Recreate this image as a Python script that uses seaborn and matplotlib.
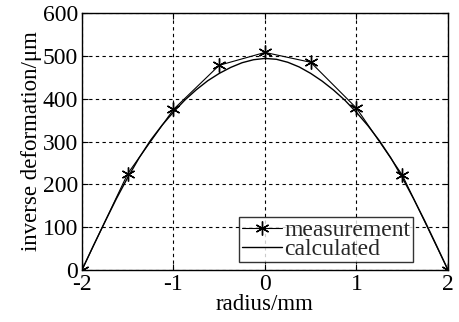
import matplotlib
matplotlib.use("Agg")
import matplotlib.pyplot as plt
import seaborn as sns
import pandas as pd

sns.set_theme(style="white")
plt.rcParams['font.family'] = ['Liberation Serif', 'DejaVu Serif']

meas_r = [-2, -1.5, -1, -0.5, 0, 0.5, 1, 1.5, 2]
meas_d = [0, 225, 375, 478, 508, 485, 378, 222, 0]

calc_r = [-2, -1.875, -1.75, -1.625, -1.5, -1.375, -1.25, -1.125, -1, -0.875, -0.75, -0.625,
          -0.5, -0.375, -0.25, -0.125, 0, 0.125, 0.25, 0.375, 0.5, 0.625, 0.75, 0.875,
          1, 1.125, 1.25, 1.375, 1.5, 1.625, 1.75, 1.875, 2]
calc_d = [0, 57, 112, 166, 216, 262, 303, 338, 369, 397, 421, 442,
          459, 473, 484, 491, 494, 492, 485, 474, 459, 441, 420, 396,
          368, 337, 302, 262, 216, 166, 113, 57, 0]

xticks = [-2, -1, 0, 1, 2]
yticks = [0, 100, 200, 300, 400, 500, 600]

fig = plt.figure(figsize=(4.59, 3.22), dpi=100)
ax = fig.add_axes([0.1786, 0.1615, 0.7974, 0.798])

dm = pd.DataFrame({"r": meas_r, "d": meas_d})
dc = pd.DataFrame({"r": calc_r, "d": calc_d})
sns.lineplot(data=dm, x="r", y="d", ax=ax, color="black", lw=0.8, marker=(6, 2, 0),
             markersize=10, markeredgewidth=1.0, markeredgecolor="black", label="measurement")
sns.lineplot(data=dc, x="r", y="d", ax=ax, color="black", lw=1.0, label="calculated")

ax.set_xlim(-2, 2)
ax.set_ylim(0, 600)
ax.set_xticks(xticks)
ax.set_yticks(yticks)
ax.set_xticklabels([str(t) for t in xticks])
ax.set_yticklabels([str(t) for t in yticks])
ax.grid(True, color="black", linestyle=(0, (3, 3)), linewidth=0.8)
for s in ax.spines.values():
    s.set_color("black")
    s.set_linewidth(1.0)
ax.tick_params(direction="in", length=4, width=0.8, colors="black", labelsize=17,
               top=True, right=True, bottom=True, left=True)
ax.tick_params(axis="x", pad=3)
ax.tick_params(axis="y", pad=3)
ax.set_xlabel("radius/mm", fontsize=16.5, color="black", labelpad=-1)
ax.set_ylabel("inverse deformation/μm", fontsize=16.5, color="black", labelpad=0)

leg = ax.legend(loc="lower right", bbox_to_anchor=(0.91, 0.02), fontsize=17, frameon=True,
                fancybox=False, edgecolor="black", borderpad=0.1, labelspacing=-0.1,
                handlelength=1.7, handletextpad=0.1, borderaxespad=0.1)
leg.get_frame().set_linewidth(1.0)

fig.savefig("out.png", dpi=100)
